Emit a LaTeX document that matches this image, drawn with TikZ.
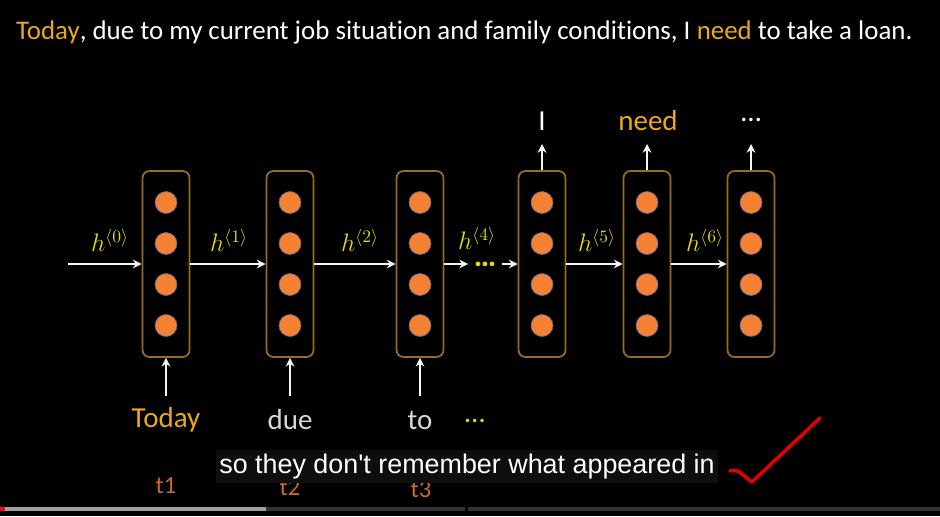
\documentclass[tikz,border=0pt]{standalone}
\usepackage{fontspec}
\setmainfont{Carlito}[Ligatures=NoCommon]
\newfontfamily\capfont{Liberation Sans}
\usetikzlibrary{arrows.meta, positioning}

\definecolor{gold}{RGB}{236,168,28}
\definecolor{cellrim}{RGB}{150,110,30}
\definecolor{unitorange}{RGB}{245,130,50}
\definecolor{hyellow}{RGB}{225,220,20}
\definecolor{steporange}{RGB}{200,105,45}
\definecolor{wordgray}{RGB}{215,215,215}
\definecolor{subbg}{RGB}{14,14,14}

\begin{document}
\begin{tikzpicture}[
		cellbox/.style={draw=cellrim, line width=1pt, rounded corners=4pt, fill=black, minimum width=0.94cm, minimum height=3.72cm},
		unit/.style={circle, fill=unitorange, draw=blue!25!gray, line width=0.4pt, minimum size=0.44cm, inner sep=0pt},
		arrow/.style={-{Stealth[length=5pt, width=5pt]}, white!92!gray, line width=1pt},
		hlab/.style={text=hyellow, font=\Large, inner sep=1pt},
		word/.style={font=\fontsize{16.5}{20}\selectfont},
		steplab/.style={text=steporange, font=\fontsize{14}{16}\selectfont}
		]
		% Background
		\fill[black] (0,0) rectangle (18.8,10.32);
		\useasboundingbox (0,0) rectangle (18.8,10.32);
		
		% Sentence
		\node[anchor=west, text=white, font=\fontsize{15.3}{18}\selectfont] (sentence) at (0.2,9.68) {\textcolor{gold}{Today}, due to my current job situation and family conditions, I \textcolor{gold}{need} to take a loan.};
		
		% Cells
		\node[cellbox] (c1) at (3.32, 5.04) {};
		\node[cellbox] (c2) at (5.8, 5.04) {};
		\node[cellbox] (c3) at (8.4, 5.04) {};
		\node[cellbox] (c4) at (10.84, 5.04) {};
		\node[cellbox] (c5) at (12.94, 5.04) {};
		\node[cellbox] (c6) at (15.02, 5.04) {};
		
		% Hidden units
		\foreach \c in {1,...,6}
			\foreach \k/\dy in {1/1.23, 2/0.41, 3/-0.41, 4/-1.23}
				\node[unit, yshift=\dy cm] (u\c\k) at (c\c) {};
		
		% Recurrent arrows
		\coordinate (start) at (1.36, 5.04);
		\node[text=hyellow, font=\fontsize{18}{20}\selectfont\bfseries, inner xsep=3pt, inner ysep=0pt] (dots) at (9.7, 5.04) {\ldots};
		\draw[arrow] (start) -- (c1);
		\draw[arrow] (c1) -- (c2);
		\draw[arrow] (c2) -- (c3);
		\draw[arrow] (c3.east) -- (dots.west |- c3.east);
		\draw[arrow] (dots.east |- c4.west) -- (c4.west);
		\draw[arrow] (c4) -- (c5);
		\draw[arrow] (c5) -- (c6);
		
		% Hidden state labels
		\node[hlab] (h0) at (2.2, 5.52) {$h^{\langle 0\rangle}$};
		\node[hlab] (h1) at (4.58, 5.52) {$h^{\langle 1\rangle}$};
		\node[hlab] (h2) at (7.2, 5.52) {$h^{\langle 2\rangle}$};
		\node[hlab] (h4) at (9.54, 5.56) {$h^{\langle 4\rangle}$};
		\node[hlab] (h5) at (11.94, 5.52) {$h^{\langle 5\rangle}$};
		\node[hlab] (h6) at (14.1, 5.52) {$h^{\langle 6\rangle}$};
		
		% Outputs
		\coordinate (o4) at (10.84, 7.44);
		\coordinate (o5) at (12.94, 7.44);
		\coordinate (o6) at (15.02, 7.44);
		\draw[arrow] (c4) -- (o4);
		\draw[arrow] (c5) -- (o5);
		\draw[arrow] (c6) -- (o6);
		\node[word, text=white] (y4) at (10.84, 7.9) {I};
		\node[word, text=gold] (y5) at (12.96, 7.9) {need};
		\node[word, text=white] (y6) at (15.02, 7.92) {\ldots};
		
		% Inputs
		\coordinate (i1) at (3.32, 2.4);
		\coordinate (i2) at (5.8, 2.4);
		\coordinate (i3) at (8.4, 2.4);
		\draw[arrow] (i1) -- (c1);
		\draw[arrow] (i2) -- (c2);
		\draw[arrow] (i3) -- (c3);
		\node[word, text=gold] (x1) at (3.32, 1.92) {Today};
		\node[word, text=wordgray] (x2) at (5.8, 1.92) {due};
		\node[word, text=wordgray] (x3) at (8.4, 1.92) {to};
		\node[word, text=hyellow] (x4) at (9.5, 1.9) {\ldots};
		
		% Time steps
		\node[steplab] (t1) at (3.32, 0.6) {t1};
		\node[steplab] (t2) at (5.8, 0.56) {t2};
		\node[steplab] (t3) at (8.42, 0.52) {t3};
		
		% Caption
		\node[fill=subbg, text=white, font=\capfont\fontsize{15.3}{18}\selectfont, minimum width=10.04cm, minimum height=0.66cm, inner sep=0pt] (caption) at (9.34, 0.99) {so they don't remember what appeared in};
		\draw[red!90!black, line width=2pt, line cap=round, line join=round] (14.6,0.9) .. controls (14.78,0.96) and (14.86,0.8) .. (15.04,0.68) -- (16.4,1.96);
		
		% Progress bar
		\draw[line width=0.08cm, gray!75] (0,0.14) -- (5.32,0.14);
		\draw[line width=0.08cm, gray!40!black] (5.32,0.14) -- (9.3,0.14);
		\draw[line width=0.08cm, gray!40!black] (9.36,0.14) -- (18.8,0.14);
		\draw[line width=0.08cm, red!80!magenta] (0,0.14) -- (0.1,0.14);
	\end{tikzpicture}
\end{document}
